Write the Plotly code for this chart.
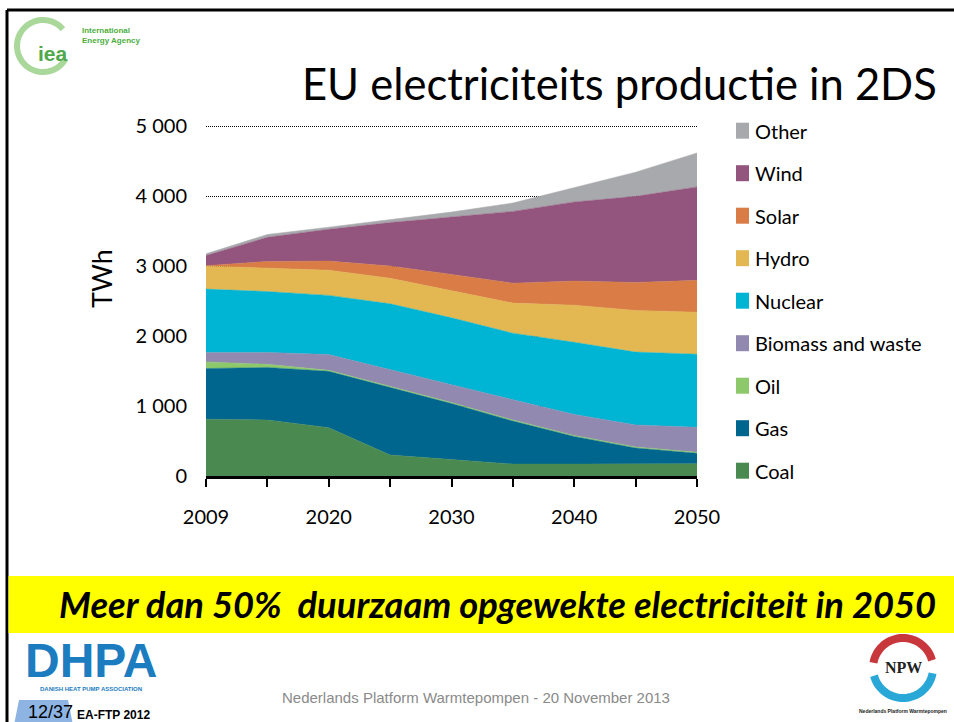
import plotly.graph_objects as go
import numpy as np

# ---------------- data ----------------
years = ["2009", "2015", "2020", "2025", "2030", "2035", "2040", "2045", "2050"]
x_tick_labels = ["2009", "", "2020", "", "2030", "", "2040", "", "2050"]
y_tick_values = [0, 1000, 2000, 3000, 4000, 5000]

coal = [810, 800, 690, 300, 235, 170, 170, 175, 175]
gas = [725, 750, 805, 960, 800, 615, 395, 225, 150]
oil = [95, 45, 15, 15, 15, 15, 15, 15, 15]
biomass = [135, 170, 225, 240, 255, 290, 300, 315, 355]
nuclear = [905, 870, 845, 945, 955, 950, 1030, 1040, 1045]
hydro = [330, 335, 360, 365, 390, 430, 530, 595, 600]
solar = [5, 95, 130, 175, 230, 285, 345, 400, 455]
wind = [145, 345, 455, 620, 820, 1025, 1130, 1230, 1335]
other = [25, 40, 30, 45, 70, 120, 205, 345, 485]

series_names = ["Coal", "Gas", "Oil", "Biomass and waste", "Nuclear",
                "Hydro", "Solar", "Wind", "Other"]
series_values = [coal, gas, oil, biomass, nuclear, hydro, solar, wind, other]
series_colors = ["#4a8a51", "#00668e", "#8dc96a", "#9189b0", "#00b4d3",
                 "#e3b751", "#d97c45", "#93547d", "#a8a9ad"]

title_text = "EU electriciteits productie in 2DS"
y_title = "TWh"
banner_text = "Meer dan 50%  duurzaam opgewekte electriciteit in 2050"
footer_text = "Nederlands Platform Warmtepompen - 20 November 2013"

# ---------------- geometry ----------------
W, H = 954, 722
L, R, T, B = 206, 697, 123, 476  # plot area in pixels (5000 sits at y=126)
Y_MAX = 5000 * (B - T) / 350.0


def px(x):
    return (x - L) / (R - L)


def py(y):
    return (B - y) / (B - T)


FONT = "Lato, 'Open Sans', sans-serif"
ARIAL = "'Liberation Sans', Arial, sans-serif"

fig = go.Figure()
for name, vals, col in zip(series_names, series_values, series_colors):
    fig.add_trace(go.Scatter(
        x=years, y=vals, name=name, mode="lines", stackgroup="one",
        line=dict(color=col, width=0.5), fillcolor=col, showlegend=False,
        hoverinfo="x+y+name",
    ))

shapes = []
annotations = []

# manual legend (top = Other, bottom = Coal)
leg_top = 130.7
leg_step = 42.5
for i, (name, col) in enumerate(zip(series_names[::-1], series_colors[::-1])):
    cy = leg_top + i * leg_step
    shapes.append(dict(type="rect", xref="paper", yref="paper",
                       x0=px(736), x1=px(749), y0=py(cy - 8), y1=py(cy + 8),
                       fillcolor=col, line=dict(width=0)))
    annotations.append(dict(text=name, xref="paper", yref="paper",
                            x=px(753), y=py(cy), xanchor="left", yanchor="middle",
                            showarrow=False,
                            font=dict(family=FONT, size=20, color="#000")))

# title
annotations.append(dict(text=title_text, xref="paper", yref="paper",
                        x=px(939), y=py(83), xanchor="right", yanchor="middle",
                        showarrow=False, font=dict(family=FONT, size=43.5, color="#000")))

# y axis title
annotations.append(dict(text=y_title, xref="paper", yref="paper",
                        x=px(101), y=py(279), xanchor="center", yanchor="middle",
                        textangle=-90, showarrow=False,
                        font=dict(family=FONT, size=27, color="#000")))

# slide frame
shapes.append(dict(type="line", xref="paper", yref="paper",
                   x0=px(7), x1=px(960), y0=py(10), y1=py(10),
                   line=dict(color="#000", width=3)))
shapes.append(dict(type="line", xref="paper", yref="paper",
                   x0=px(7), x1=px(7), y0=py(10), y1=py(730),
                   line=dict(color="#000", width=3)))

# yellow banner
shapes.append(dict(type="rect", xref="paper", yref="paper",
                   x0=px(8.5), x1=px(960), y0=py(576), y1=py(633),
                   fillcolor="#ffff00", line=dict(width=0)))
annotations.append(dict(text="<b><i>" + banner_text + "</i></b>", xref="paper", yref="paper",
                        x=px(497), y=py(604), xanchor="center", yanchor="middle",
                        showarrow=False, font=dict(family=FONT, size=36.3, color="#000")))

# footer
annotations.append(dict(text=footer_text, xref="paper", yref="paper",
                        x=px(476), y=py(697), xanchor="center", yanchor="middle",
                        showarrow=False,
                        font=dict(family=ARIAL, size=15, color="#8a8a8a")))

# page number shape and text
shapes.append(dict(type="path", xref="paper", yref="paper",
                   path="M {} {} L {} {} L {} {} L {} {} Z".format(
                       px(14), py(725), px(19), py(700), px(68), py(700), px(73), py(725)),
                   fillcolor="#8eb4e3", line=dict(width=0)))
annotations.append(dict(text="12/37", xref="paper", yref="paper",
                        x=px(26), y=py(712), xanchor="left", yanchor="middle",
                        showarrow=False,
                        font=dict(family=ARIAL, size=18, color="#000")))
annotations.append(dict(text="<b>EA-FTP 2012</b>", xref="paper", yref="paper",
                        x=px(75), y=py(715), xanchor="left", yanchor="middle",
                        showarrow=False,
                        font=dict(family=ARIAL, size=12, color="#000")))

# IEA logo (approximation)
th = np.linspace(np.deg2rad(40), np.deg2rad(330), 60)
cx, cy_, r = 43, 46, 26
pts = [(cx + r * np.cos(t), cy_ - r * np.sin(t)) for t in th]
path = "M " + " L ".join("{:.5f} {:.5f}".format(px(a), py(b)) for a, b in pts)
shapes.append(dict(type="path", xref="paper", yref="paper", path=path,
                   line=dict(color="#a9d89a", width=6)))
annotations.append(dict(text="<b>iea</b>", xref="paper", yref="paper",
                        x=px(53), y=py(53), xanchor="center", yanchor="middle",
                        showarrow=False,
                        font=dict(family=ARIAL, size=21, color="#4fa84a")))
annotations.append(dict(text="<b>International<br>Energy Agency</b>", xref="paper", yref="paper",
                        x=px(80), y=py(36), xanchor="left", yanchor="middle", align="left",
                        showarrow=False,
                        font=dict(family=ARIAL, size=8, color="#4cae3c")))

# DHPA logo (approximation)
annotations.append(dict(text="<b>DHPA</b>", xref="paper", yref="paper",
                        x=px(91), y=py(660), xanchor="center", yanchor="middle",
                        showarrow=False,
                        font=dict(family=ARIAL, size=48, color="#1c7cc0")))
annotations.append(dict(text="<b>DANISH HEAT PUMP ASSOCIATION</b>", xref="paper", yref="paper",
                        x=px(91), y=py(689), xanchor="center", yanchor="middle",
                        showarrow=False,
                        font=dict(family=ARIAL, size=6, color="#1c7cc0")))

# NPW logo (approximation)
ncx, ncy, nr = 903, 668, 30
th1 = np.linspace(np.deg2rad(15), np.deg2rad(170), 40)
th2 = np.linspace(np.deg2rad(195), np.deg2rad(350), 40)
for thx, col in ((th1, "#c8373c"), (th2, "#29a8d8")):
    pts = [(ncx + nr * np.cos(t), ncy - nr * np.sin(t)) for t in thx]
    path = "M " + " L ".join("{:.5f} {:.5f}".format(px(a), py(b)) for a, b in pts)
    shapes.append(dict(type="path", xref="paper", yref="paper", path=path,
                       line=dict(color=col, width=8)))
annotations.append(dict(text="<b>NPW</b>", xref="paper", yref="paper",
                        x=px(903), y=py(667), xanchor="center", yanchor="middle",
                        showarrow=False,
                        font=dict(family="'Liberation Serif', serif", size=16, color="#222")))
annotations.append(dict(text="<b>Nederlands Platform Warmtepompen</b>", xref="paper", yref="paper",
                        x=px(903), y=py(711), xanchor="center", yanchor="middle",
                        showarrow=False,
                        font=dict(family=ARIAL, size=5, color="#222")))

fig.update_layout(
    width=W, height=H,
    margin=dict(l=L, r=W - R, t=T, b=H - B, pad=0),
    paper_bgcolor="white", plot_bgcolor="white",
    separators=". ",
    showlegend=False,
    shapes=shapes, annotations=annotations,
    font=dict(family=FONT, color="#000"),
    xaxis=dict(type="category", range=[0, 8], tickmode="array",
               tickvals=years, ticktext=x_tick_labels,
               showgrid=False, zeroline=False,
               showline=True, linecolor="#000", linewidth=2.5,
               ticks="outside", ticklen=8, tickwidth=1.5, tickcolor="#000",
               tickfont=dict(family=FONT, size=20, color="#000"),
               ticklabelstandoff=13),
    yaxis=dict(range=[0, Y_MAX], tickmode="array", tickvals=y_tick_values,
               tickformat=",d", showgrid=True, gridcolor="#000", griddash="1px,1px",
               gridwidth=1, zeroline=False, showline=False,
               tickfont=dict(family=FONT, size=20, color="#000"),
               ticklabelstandoff=18),
)

fig.write_html("out.html",
               config={"displayModeBar": False},
               post_script="document.body.style.margin='0';document.body.style.padding='0';")
